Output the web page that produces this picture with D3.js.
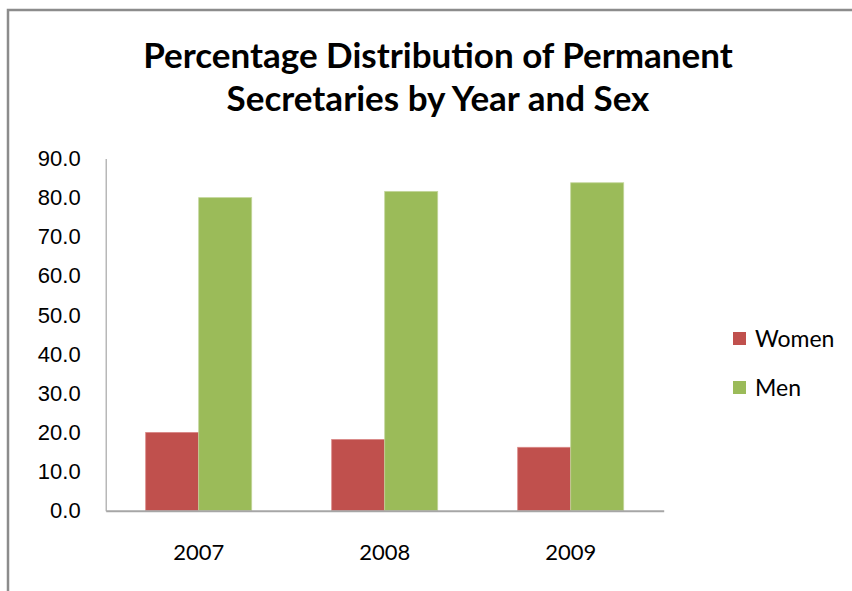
<!DOCTYPE html>
<html>
<head>
<meta charset="utf-8">
<script src="https://cdn.jsdelivr.net/npm/d3@7"></script>
<style>
  body { margin: 0; background: #fff; }
</style>
</head>
<body>
<div id="chart"></div>
<script>
let width = 852, height = 591;

// Data
const years = ["2007", "2008", "2009"];
const seriesNames = ["Women", "Men"];
const women = [20.0, 18.2, 16.2];
const men = [80.0, 81.6, 83.8];
const yTicks = [0, 10, 20, 30, 40, 50, 60, 70, 80, 90];
const titleLines = ["Percentage Distribution of Permanent", "Secretaries by Year and Sex"];

const colors = {"Women": "#C0504D", "Men": "#9BBB59"};
const edges = {"Women": "#D98785", "Men": "#C3D69B"};

let svg = d3.select("#chart").append("svg")
  .attr("width", width)
  .attr("height", height);

// chart frame (runs off the right and bottom edge)
svg.append("rect")
  .attr("x", 8)
  .attr("y", 10)
  .attr("width", 900)
  .attr("height", 700)
  .attr("fill", "white")
  .attr("stroke", "#8c8c8c")
  .attr("stroke-width", 2.5);

// Title
svg.append("g").selectAll("text")
  .data(titleLines)
  .enter().append("text")
  .attr("x", 438)
  .attr("y", (d, i) => 68 + i * 43)
  .attr("text-anchor", "middle")
  .style("font-family", "Lato, sans-serif")
  .style("font-weight", "bold")
  .style("font-size", "35px")
  .attr("fill", "#000")
  .text(d => d);

// Scales
let x = d3.scaleBand()
  .domain(years)
  .range([105.7, 663.7])
  .paddingInner(0.43)
  .paddingOuter(0.215);

let xInner = d3.scaleBand()
  .domain(seriesNames)
  .range([0, x.bandwidth()]);

let y = d3.scaleLinear()
  .domain([0, 90])
  .range([510.7, 158.5]);

// Y axis
let yAxis = svg.append("g")
  .attr("transform", "translate(105.7,0)")
  .call(d3.axisLeft(y).tickValues(yTicks).tickFormat(d3.format(".1f")).tickSize(0).tickPadding(25));
yAxis.select(".domain").attr("stroke", "#a6a6a6").attr("stroke-width", 1.2);
yAxis.selectAll("text")
  .style("font-family", "'Liberation Sans', Arial, sans-serif")
  .style("font-size", "22px")
  .attr("fill", "#000");

// Bars
let rows = years.map((yr, i) => ({year: yr, Women: women[i], Men: men[i]}));

let groups = svg.append("g").attr("id", "bars")
  .selectAll("g")
  .data(rows)
  .enter().append("g")
  .attr("transform", d => "translate(" + x(d.year) + ",0)");

groups.selectAll("rect")
  .data(d => seriesNames.map(s => ({key: s, value: d[s]})))
  .enter().append("rect")
  .attr("x", d => xInner(d.key))
  .attr("y", d => y(d.value))
  .attr("width", xInner.bandwidth())
  .attr("height", d => y(0) - y(d.value))
  .attr("fill", d => colors[d.key])
  .attr("stroke", d => edges[d.key])
  .attr("stroke-width", 0.8);

// X axis
let xAxis = svg.append("g")
  .attr("transform", "translate(0," + y(0) + ")")
  .call(d3.axisBottom(x).tickSize(0).tickPadding(34));
xAxis.select(".domain").attr("stroke", "#a6a6a6").attr("stroke-width", 2);
xAxis.selectAll("text")
  .style("font-family", "Lato, sans-serif")
  .style("font-size", "22px")
  .attr("fill", "#000");

// Legend
let legend = svg.append("g").attr("id", "legend")
  .selectAll("g")
  .data(seriesNames)
  .enter().append("g")
  .attr("transform", (d, i) => "translate(733," + (332 + i * 49) + ")");

legend.append("rect")
  .attr("width", 13)
  .attr("height", 13)
  .attr("fill", d => colors[d]);

legend.append("text")
  .attr("x", 22)
  .attr("y", 15)
  .style("font-family", "Lato, sans-serif")
  .style("font-size", "23px")
  .attr("fill", "#000")
  .text(d => d);
</script>
</body>
</html>
